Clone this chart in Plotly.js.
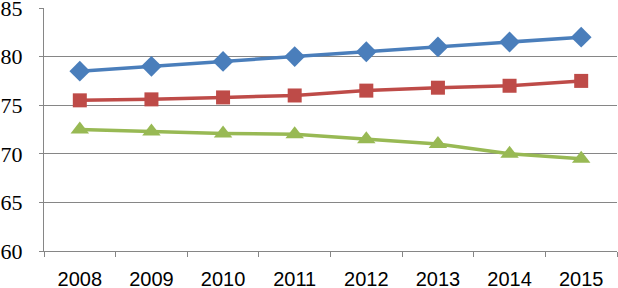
<!DOCTYPE html>
<html>
<head>
<meta charset="utf-8">
<script src="https://cdn.plot.ly/plotly-3.0.1.min.js"></script>
<style>html,body{margin:0;padding:0;background:#fff;}#chart{width:618px;height:288px;}</style>
</head>
<body>
<div id="chart"></div>
<script>
const years = ['2008','2009','2010','2011','2012','2013','2014','2015'];
const seriesBlue = [78.5, 79.0, 79.5, 80.0, 80.5, 81.0, 81.5, 82.0];
const seriesRed = [75.5, 75.6, 75.8, 76.0, 76.5, 76.8, 77.0, 77.5];
const seriesGreen = [72.5, 72.3, 72.1, 72.0, 71.5, 71.0, 70.0, 69.5];
const yTicks = [60, 65, 70, 75, 80, 85];

function tr(y, color, symbol, size) {
  return {x: years, y: y, type: 'scatter', mode: 'lines+markers',
    line: {color: color, width: 3.5}, marker: {symbol: symbol, size: size, color: color},
    cliponaxis: false, showlegend: false};
}
const data = [
  tr(seriesBlue, '#4A7EBB', 'diamond', 16),
  tr(seriesRed, '#BE4B48', 'square', 14),
  tr(seriesGreen, '#98B954', 'triangle-up', 16)
];
const layout = {
  width: 618, height: 288,
  margin: {l: 44, r: 1, t: 8, b: 37},
  paper_bgcolor: '#fff', plot_bgcolor: '#fff',
  showlegend: false,
  font: {family: 'Liberation Serif, serif'},
  xaxis: {type: 'category', range: [-0.5, 7.5], tickson: 'boundaries',
    ticks: 'outside', ticklen: 5, tickcolor: '#868686', tickwidth: 1,
    showline: true, linecolor: '#868686', linewidth: 1, showgrid: false, zeroline: false,
    tickfont: {family: 'Liberation Sans, Arial, sans-serif', size: 20, color: '#000'},
    ticklabelstandoff: 10},
  yaxis: {range: [60, 85], tickvals: yTicks, ticktext: yTicks.map(String),
    ticks: 'outside', ticklen: 4, tickcolor: '#868686', tickwidth: 1,
    showline: true, linecolor: '#868686', linewidth: 1,
    showgrid: true, gridcolor: '#868686', gridwidth: 1, zeroline: false,
    tickfont: {family: 'Times New Roman, Liberation Serif, DejaVu Serif, serif', size: 22, color: '#000'},
    ticklabeloverflow: 'allow',
    ticklabelstandoff: 12}
};
Plotly.newPlot('chart', data, layout, {displayModeBar: false, staticPlot: true});
</script>
</body>
</html>
